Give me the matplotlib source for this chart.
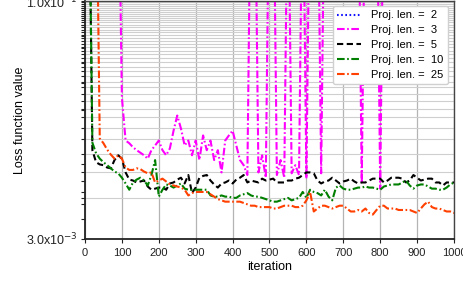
import matplotlib

matplotlib.use("Agg")
import matplotlib.pyplot as plt
import numpy as np
from matplotlib.ticker import FixedLocator, FuncFormatter, LogLocator, NullFormatter

plt.rcParams["font.family"] = ["Liberation Sans", "DejaVu Sans"]
plt.rcParams["lines.scale_dashes"] = False

# iteration axis (sampled every 10 iterations)
iters = np.arange(0, 1001, 10)

# Proj. len. = 2 never enters the plotted range (stays above 1e-1)
proj2_iter = []
proj2_loss = []

# Proj. len. = 3 (values of 1.0 are off the top of the axis)
proj3_loss = [
    1.0, 1.0, 1.0, 1.0, 1.0, 1.0, 1.0, 1.0, 1.0, 1.0,
    0.0241, 0.0128, 0.0123, 0.0116, 0.0111, 0.0107, 0.0103, 0.0098, 0.0111, 0.0119,
    0.0128, 0.0111, 0.0103, 0.0114, 0.0148, 0.0185, 0.0153, 0.0119, 0.0128, 0.0103,
    0.0128, 0.0096, 0.0138, 0.0111, 0.0128, 0.0096, 0.0111, 0.0080, 0.0128, 0.0138,
    0.0148, 0.0119, 0.0096, 0.0089, 0.0077, 1.0, 1.0, 0.0080, 0.0103, 0.0074,
    1.0, 1.0, 0.0077, 0.0096, 0.0074, 1.0, 0.0079, 0.0089, 0.0077, 1.0,
    0.0073, 1.0, 1.0, 1.0, 0.0079, 1.0, 1.0, 1.0, 1.0, 1.0,
    1.0, 1.0, 1.0, 1.0, 1.0, 0.0068, 1.0, 1.0, 1.0, 1.0,
    0.0063, 1.0, 1.0, 1.0, 1.0, 1.0, 1.0, 1.0, 1.0, 1.0,
    1.0, 1.0, 1.0, 1.0, 1.0, 1.0, 1.0, 1.0, 1.0, 1.0,
    1.0,
]

# Proj. len. = 5
proj5_loss = [
    1.0, 1.0, 0.0111, 0.0093, 0.0090, 0.0089, 0.0086, 0.0085, 0.0096, 0.0103,
    0.0098, 0.0080, 0.0072, 0.0071, 0.0069, 0.0070, 0.0071, 0.0065, 0.0062, 0.0063,
    0.0064, 0.0064, 0.0062, 0.0068, 0.0069, 0.0072, 0.0074, 0.0068, 0.0077, 0.0059,
    0.0064, 0.0074, 0.0076, 0.0077, 0.0071, 0.0067, 0.0064, 0.0068, 0.0069, 0.0071,
    0.0068, 0.0072, 0.0074, 0.0077, 0.0069, 0.0071, 0.0070, 0.0069, 0.0073, 0.0071,
    0.0072, 0.0073, 0.0069, 0.0069, 0.0069, 0.0071, 0.0071, 0.0073, 0.0074, 0.0077,
    0.0080, 0.0080, 0.0079, 0.0071, 0.0068, 0.0070, 0.0071, 0.0074, 0.0071, 0.0068,
    0.0070, 0.0071, 0.0073, 0.0070, 0.0068, 0.0069, 0.0069, 0.0071, 0.0073, 0.0073,
    0.0073, 0.0069, 0.0071, 0.0074, 0.0074, 0.0074, 0.0073, 0.0069, 0.0071, 0.0077,
    0.0074, 0.0071, 0.0072, 0.0073, 0.0073, 0.0069, 0.0069, 0.0066, 0.0069, 0.0069,
    0.0069,
]

# Proj. len. = 10
proj10_loss = [
    1.0, 1.0, 0.0124, 0.0106, 0.0098, 0.0093, 0.0089, 0.0085, 0.0081, 0.0079,
    0.0074, 0.0068, 0.0062, 0.0069, 0.0072, 0.0074, 0.0071, 0.0066, 0.0077, 0.0096,
    0.0056, 0.0062, 0.0067, 0.0066, 0.0064, 0.0066, 0.0068, 0.0063, 0.0062, 0.0062,
    0.0062, 0.0062, 0.0062, 0.0062, 0.0057, 0.0056, 0.0056, 0.0057, 0.0056, 0.0056,
    0.0055, 0.0055, 0.0057, 0.0058, 0.0059, 0.0057, 0.0056, 0.0056, 0.0055, 0.0054,
    0.0053, 0.0052, 0.0052, 0.0053, 0.0054, 0.0055, 0.0053, 0.0054, 0.0055, 0.0060,
    0.0055, 0.0062, 0.0060, 0.0059, 0.0057, 0.0062, 0.0056, 0.0053, 0.0064, 0.0066,
    0.0063, 0.0062, 0.0062, 0.0063, 0.0064, 0.0064, 0.0065, 0.0064, 0.0064, 0.0063,
    0.0062, 0.0065, 0.0066, 0.0067, 0.0067, 0.0067, 0.0069, 0.0071, 0.0066, 0.0063,
    0.0066, 0.0067, 0.0067, 0.0065, 0.0063, 0.0063, 0.0062, 0.0062, 0.0064, 0.0067,
    0.0069,
]

# Proj. len. = 25
proj25_loss = [
    1.0, 1.0, 1.0, 1.0, 0.0132, 0.0123, 0.0112, 0.0104, 0.0098, 0.0103,
    0.0098, 0.0086, 0.0083, 0.0083, 0.0085, 0.0084, 0.0081, 0.0079, 0.0080, 0.0069,
    0.0071, 0.0073, 0.0070, 0.0067, 0.0066, 0.0065, 0.0064, 0.0062, 0.0057, 0.0059,
    0.0060, 0.0060, 0.0060, 0.0060, 0.0058, 0.0056, 0.0054, 0.0053, 0.0052, 0.0052,
    0.0052, 0.0052, 0.0052, 0.0051, 0.0050, 0.0049, 0.0049, 0.0048, 0.0048, 0.0048,
    0.0048, 0.0047, 0.0047, 0.0048, 0.0049, 0.0049, 0.0049, 0.0048, 0.0048, 0.0049,
    0.0053, 0.0060, 0.0045, 0.0047, 0.0049, 0.0049, 0.0048, 0.0047, 0.0048, 0.0049,
    0.0049, 0.0047, 0.0045, 0.0045, 0.0046, 0.0045, 0.0047, 0.0044, 0.0043, 0.0046,
    0.0049, 0.0049, 0.0047, 0.0047, 0.0047, 0.0046, 0.0046, 0.0046, 0.0046, 0.0045,
    0.0044, 0.0047, 0.0050, 0.0052, 0.0048, 0.0047, 0.0047, 0.0046, 0.0045, 0.0045,
    0.0044,
]

labels = ["Proj. len. =  2", "Proj. len. =  3", "Proj. len. =  5",
          "Proj. len. =  10", "Proj. len. =  25"]

fig = plt.figure(figsize=(4.64, 2.83), dpi=100)
ax = fig.add_axes([85 / 464, 44 / 283, 369 / 464, 238 / 283])

lw = 1.5
ax.plot(proj2_iter, proj2_loss, color="#1010ff", lw=lw, ls=(0, (1.2, 1.8)), label=labels[0])
ax.plot(iters, proj3_loss, color="#ff00ff", lw=lw, ls=(0, (5.5, 1.8, 1.2, 1.8)), label=labels[1])
ax.plot(iters, proj5_loss, color="black", lw=lw, ls=(0, (4.5, 2.5)), label=labels[2])
ax.plot(iters, proj10_loss, color="#007f00", lw=lw, ls=(0, (5.5, 1.8, 1.2, 1.8)), label=labels[3])
ax.plot(iters, proj25_loss, color="#ff4000", lw=lw, ls=(0, (5.5, 1.8, 1.2, 1.8)), label=labels[4])

# axes limits and scales
ax.set_xlim(0, 1000)
ax.set_yscale("log")
ax.set_ylim(3e-3, 1e-1)

ax.set_xticks(np.arange(0, 1001, 100))

# gridlines on a linear step, labels only at the ends of the axis
grid_y = np.arange(0.0055, 0.0999, 0.0025)
major_y = np.concatenate([[3e-3], grid_y, [0.1]])
ax.yaxis.set_major_locator(FixedLocator(major_y))


def end_label(v, pos):
    if abs(v - 3e-3) < 1e-6:
        return r"3.0x10$^{-3}$"
    if abs(v - 0.1) < 1e-6:
        return r"1.0x10$^{-1}$"
    return ""


ax.yaxis.set_major_formatter(FuncFormatter(end_label))
ax.yaxis.set_minor_locator(LogLocator(base=10, subs=np.arange(2, 10)))
ax.yaxis.set_minor_formatter(NullFormatter())

ax.grid(True, axis="x", which="major", color="#b4b4b4", lw=0.9)
ax.grid(True, axis="y", which="major", color="#cfcfcf", lw=0.8)
ax.set_axisbelow(True)

ax.tick_params(axis="both", which="both", direction="out", length=3, width=0.8,
               labelsize=8, colors="#222222")
ax.tick_params(axis="y", which="major", labelsize=9, pad=2)

for side in ["left", "bottom"]:
    ax.spines[side].set_linewidth(1.3)
    ax.spines[side].set_color("#222222")
for side in ["right", "top"]:
    ax.spines[side].set_linewidth(1.0)
    ax.spines[side].set_color("#444444")

ax.set_xlabel("iteration", fontsize=9, labelpad=2)
ax.set_ylabel("Loss function value", fontsize=9, labelpad=0)

ax.legend(loc="upper right", bbox_to_anchor=(0.984, 0.979), borderaxespad=0,
          fontsize=8, handlelength=2.2, handletextpad=0.9, labelspacing=0.44,
          borderpad=0.4, framealpha=1, edgecolor="#d0d0d0", fancybox=True)

fig.savefig("out.png", dpi=100)
